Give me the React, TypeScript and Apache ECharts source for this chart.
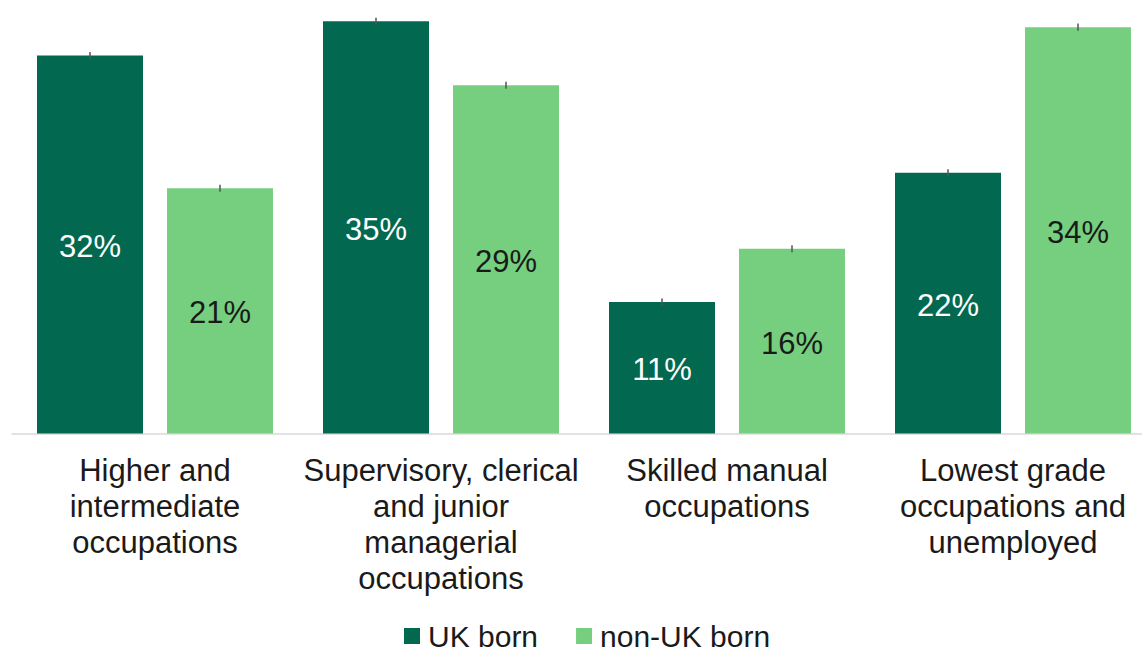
import React, { useEffect, useRef } from "react";
import * as echarts from "echarts";

const categories = [
  "Higher and\nintermediate\noccupations",
  "Supervisory, clerical\nand junior\nmanagerial\noccupations",
  "Skilled manual\noccupations",
  "Lowest grade\noccupations and\nunemployed",
];
const ukBorn = [31.9, 34.8, 11.1, 22.0];
const nonUkBorn = [20.7, 29.4, 15.6, 34.3];
const ukErr = [0.3, 0.3, 0.3, 0.3];
const nonUkErr = [0.3, 0.3, 0.3, 0.3];
const seriesNames = ["UK born", "non-UK born"];

const DARK = "#02684f";
const LIGHT = "#75cf7f";
const FONT = "Liberation Sans, Arial, sans-serif";
const BAR_W = 106;
const BAR_GAP = 24;

export default function App() {
  const ref = useRef<HTMLDivElement>(null);
  useEffect(() => {
    document.body.style.margin = "0";
    const chart = echarts.init(ref.current!, null, { renderer: "svg" });
    const errData: number[][] = [];
    ukBorn.forEach((v, i) => errData.push([i, v, ukErr[i], 0]));
    nonUkBorn.forEach((v, i) => errData.push([i, v, nonUkErr[i], 1]));
    const labelFmt = (p: any) => Math.round(p.value) + "%";
    chart.setOption({
      animation: false,
      textStyle: { fontFamily: FONT },
      grid: {
        left: 12,
        width: 1144,
        top: 7,
        bottom: 219.5,
        containLabel: false,
        outerBoundsMode: "none",
      },
      legend: {
        data: seriesNames,
        left: 404,
        top: 621,
        padding: 0,
        itemWidth: 16,
        itemHeight: 16,
        itemGap: 38,
        icon: "rect",
        textStyle: {
          fontSize: 30,
          lineHeight: 26,
          color: "#1a1a1a",
          fontFamily: FONT,
          padding: [0, 0, 0, 3],
        },
      },
      xAxis: {
        type: "category",
        data: categories,
        axisLine: { show: true, lineStyle: { color: "#d9d9d9", width: 1.5 } },
        axisTick: { show: false },
        axisLabel: {
          interval: 0,
          margin: 19,
          fontSize: 31,
          lineHeight: 36,
          color: "#1a1a1a",
          fontFamily: FONT,
          align: "center",
        },
      },
      yAxis: {
        type: "value",
        min: 0,
        max: 36,
        show: false,
        splitLine: { show: false },
      },
      series: [
        {
          name: seriesNames[0],
          type: "bar",
          data: ukBorn,
          barWidth: BAR_W,
          barGap: (BAR_GAP / BAR_W) * 100 + "%",
          itemStyle: { color: DARK },
          label: {
            show: true,
            position: "inside",
            offset: [0, 2],
            formatter: labelFmt,
            color: "#ffffff",
            fontSize: 31,
            fontFamily: FONT,
          },
        },
        {
          name: seriesNames[1],
          type: "bar",
          data: nonUkBorn,
          barWidth: BAR_W,
          barGap: (BAR_GAP / BAR_W) * 100 + "%",
          itemStyle: { color: LIGHT },
          label: {
            show: true,
            position: "inside",
            offset: [0, 2],
            formatter: labelFmt,
            color: "#1a1a1a",
            fontSize: 31,
            fontFamily: FONT,
          },
        },
        {
          type: "custom",
          name: "errors",
          data: errData,
          z: 10,
          silent: true,
          encode: { x: 0, y: 1 },
          renderItem: (params: any, api: any) => {
            const cat = api.value(0);
            const v = api.value(1);
            const e = api.value(2);
            const s = api.value(3);
            const off = (BAR_W + BAR_GAP) / 2;
            const top = api.coord([cat, v + e]);
            const bot = api.coord([cat, v - e]);
            const x = top[0] + (s === 0 ? -off : off);
            return {
              type: "line",
              shape: { x1: x, y1: top[1], x2: x, y2: bot[1] },
              style: { stroke: "#555555", lineWidth: 1.5 },
            };
          },
        },
      ],
    });
    return () => chart.dispose();
  }, []);
  return <div ref={ref} style={{ width: 1142, height: 653 }} />;
}
